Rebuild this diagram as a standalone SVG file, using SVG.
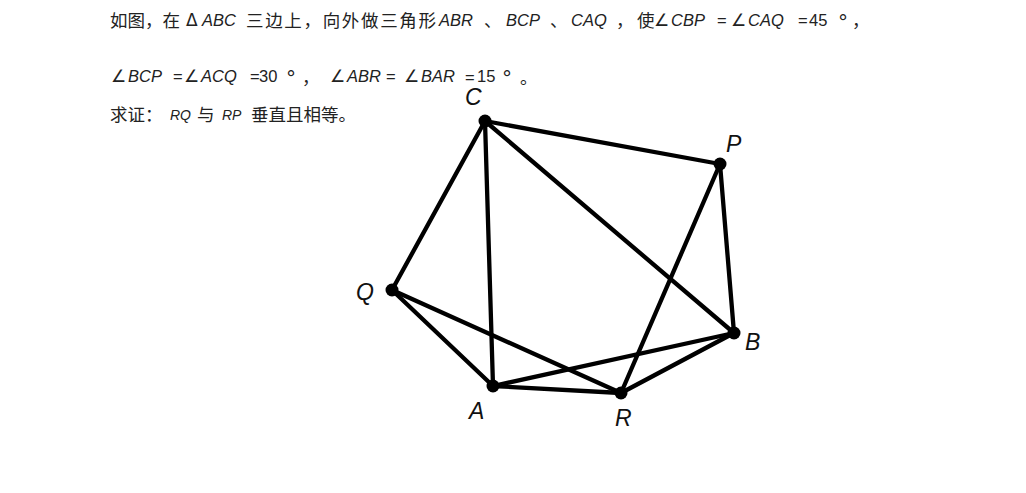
<svg xmlns="http://www.w3.org/2000/svg" width="1026" height="493" viewBox="0 0 1026 493">
<style>
.cn{font-family:"Noto Sans CJK SC","Noto Sans",sans-serif;font-size:17.5px;fill:#222}
.la{font-family:"Liberation Sans",Arial,sans-serif;font-style:italic;font-size:16.5px;fill:#222}
.nu{font-family:"Liberation Sans",Arial,sans-serif;font-size:16.5px;fill:#222}
.sy{font-family:"DejaVu Sans",sans-serif;font-size:17px;fill:#222}
.dg{font-family:"DejaVu Sans",sans-serif;font-size:20px;fill:#222}
.sm{font-family:"Liberation Sans",Arial,sans-serif;font-style:italic;font-size:14px;fill:#222}
.lbl{font-family:"Liberation Sans",Arial,sans-serif;font-style:italic;font-size:23px;fill:#111}
.edge{stroke:#000;stroke-width:4.3;stroke-linecap:round;fill:none}
.dot{fill:#000}
</style>
<rect width="1026" height="493" fill="#fff"/>
<g id="text">
<text class="cn" x="110" y="27">如图，在</text>
<text class="sy" x="186" y="26">Δ</text>
<text class="la" x="202" y="26">ABC</text>
<text class="cn" x="246" y="27" textLength="190">三边上，向外做三角形</text>
<text class="la" x="439" y="26">ABR</text>
<text class="cn" x="484" y="27">、</text>
<text class="la" x="506" y="26">BCP</text>
<text class="cn" x="550" y="27">、</text>
<text class="la" x="571" y="26">CAQ</text>
<text class="cn" x="616" y="27">，</text>
<text class="cn" x="637" y="27">使</text>
<text class="sy" x="654" y="26">∠</text>
<text class="la" x="671" y="26">CBP</text>
<text class="nu" x="717" y="26">=</text>
<text class="sy" x="731" y="26">∠</text>
<text class="la" x="748" y="26">CAQ</text>
<text class="nu" x="798" y="26">=</text>
<text class="nu" x="809" y="26">45</text>
<text class="dg" x="838" y="29">°</text>
<text class="cn" x="852" y="27">，</text>

<text class="sy" x="111" y="82">∠</text>
<text class="la" x="128" y="82">BCP</text>
<text class="nu" x="173" y="82">=</text>
<text class="sy" x="184" y="82">∠</text>
<text class="la" x="201" y="82">ACQ</text>
<text class="nu" x="250" y="82">=</text>
<text class="nu" x="259" y="82">30</text>
<text class="dg" x="286" y="85">°</text>
<text class="cn" x="302" y="84">，</text>
<text class="sy" x="330" y="82">∠</text>
<text class="la" x="347" y="82">ABR</text>
<text class="nu" x="386" y="82">=</text>
<text class="sy" x="404" y="82">∠</text>
<text class="la" x="421" y="82">BAR</text>
<text class="nu" x="465" y="83">=</text>
<text class="nu" x="477" y="82">15</text>
<text class="dg" x="502" y="85">°</text>
<text class="cn" x="520" y="84">。</text>

<text class="cn" x="110" y="121">求证：</text>
<text class="sm" x="170" y="120">RQ</text>
<text class="cn" x="197" y="121">与</text>
<text class="sm" x="222" y="120">RP</text>
<text class="cn" x="251" y="121">垂直且相等。</text>
</g>
<g id="connectors">
<line class="edge" x1="485" y1="121" x2="392" y2="290"/>
<line class="edge" x1="485" y1="121" x2="493" y2="386"/>
<line class="edge" x1="485" y1="121" x2="734" y2="333"/>
<line class="edge" x1="485" y1="121" x2="720" y2="164"/>
<line class="edge" x1="720" y1="164" x2="734" y2="333"/>
<line class="edge" x1="720" y1="164" x2="621" y2="393"/>
<line class="edge" x1="392" y1="290" x2="493" y2="386"/>
<line class="edge" x1="392" y1="290" x2="621" y2="393"/>
<line class="edge" x1="493" y1="386" x2="621" y2="393"/>
<line class="edge" x1="493" y1="386" x2="734" y2="333"/>
<line class="edge" x1="621" y1="393" x2="734" y2="333"/>
</g>
<g id="node-C"><circle class="dot" cx="485" cy="121" r="6.5"/><text class="lbl" x="465" y="105">C</text></g>
<g id="node-P"><circle class="dot" cx="720" cy="164" r="6.5"/><text class="lbl" x="726" y="152">P</text></g>
<g id="node-Q"><circle class="dot" cx="392" cy="290" r="6.5"/><text class="lbl" x="356" y="300">Q</text></g>
<g id="node-B"><circle class="dot" cx="734" cy="333" r="6.5"/><text class="lbl" x="745" y="350">B</text></g>
<g id="node-A"><circle class="dot" cx="493" cy="386" r="6.5"/><text class="lbl" x="469" y="419">A</text></g>
<g id="node-R"><circle class="dot" cx="621" cy="393" r="6.5"/><text class="lbl" x="615" y="426">R</text></g>
</svg>
